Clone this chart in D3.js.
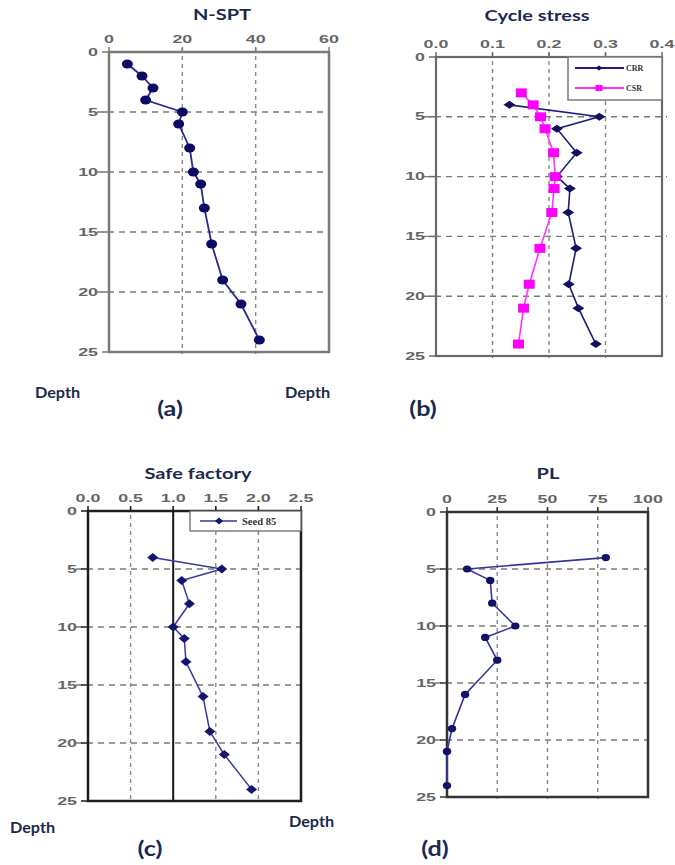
<!DOCTYPE html>
<html>
<head>
<meta charset="utf-8">
<script src="https://cdn.jsdelivr.net/npm/d3@7"></script>
<style>
  body { margin: 0; background: #fff; }
  svg { display: block; }
</style>
</head>
<body>
<svg id="chart" width="675" height="865"></svg>
<script>
// depth (m) shared ticks
const depthTicks = [0, 5, 10, 15, 20, 25];

// (a) N-SPT
const nsptDepth = [1, 2, 3, 4, 5, 6, 8, 10, 11, 13, 16, 19, 21, 24];
const nsptValue = [5, 9, 12, 10, 20, 19, 22, 23, 25, 26, 28, 31, 36, 41];
const nsptTicks = [0, 20, 40, 60];

// (b) cycle stress
const crrDepth = [4, 5, 6, 8, 10, 11, 13, 16, 19, 21, 24];
const crrValue = [0.13, 0.289, 0.214, 0.249, 0.214, 0.237, 0.234, 0.248, 0.235, 0.252, 0.283];
const csrDepth = [3, 4, 5, 6, 8, 10, 11, 13, 16, 19, 21, 24];
const csrValue = [0.151, 0.172, 0.185, 0.193, 0.208, 0.211, 0.209, 0.205, 0.184, 0.165, 0.155, 0.146];
const stressTicks = [0, 0.1, 0.2, 0.3, 0.4];

// (c) safe factor
const fsDepth = [4, 5, 6, 8, 10, 11, 13, 16, 19, 21, 24];
const fsValue = [0.76, 1.57, 1.1, 1.19, 1.0, 1.13, 1.15, 1.35, 1.43, 1.6, 1.92];
const fsTicks = [0, 0.5, 1, 1.5, 2, 2.5];

// (d) PL
const plDepth = [4, 5, 6, 8, 10, 11, 13, 16, 19, 21, 24];
const plValue = [79, 10, 21.5, 22.5, 34, 19, 25, 9, 2.5, 0, 0];
const plTicks = [0, 25, 50, 75, 100];

const svg = d3.select("#chart");
svg.append("rect").attr("width", 675).attr("height", 865).attr("fill", "#fff");

const titleColor = "#1c2a4e";

function stretchedText(g, x, y, txt, anchor) {
  // tick labels in the source are wide and flat
  g.append("text")
    .attr("transform", `translate(${x},${y}) scale(1.7,1)`)
    .attr("text-anchor", anchor)
    .attr("dominant-baseline", "central")
    .attr("font-family", "Liberation Sans, Arial, sans-serif")
    .attr("font-size", 10.5)
    .attr("font-weight", "bold")
    .attr("fill", "#666")
    .text(txt);
}

function label(g, x, y, txt, size, sx, anchor) {
  g.append("text")
    .attr("transform", `translate(${x},${y}) scale(${sx},1)`)
    .attr("text-anchor", anchor)
    .attr("font-family", "Lato, Open Sans, sans-serif")
    .attr("font-size", size)
    .attr("font-weight", "bold")
    .attr("fill", titleColor)
    .text(txt);
}

function drawPanel(p) {
  const g = svg.append("g");
  const x = d3.scaleLinear().domain(p.xDomain).range([p.x0, p.x1]);
  const y = d3.scaleLinear().domain([0, 25]).range([p.y0, p.y1]);

  // dashed grid
  g.append("g")
    .selectAll("line")
    .data(depthTicks.slice(1, -1))
    .join("line")
    .attr("x1", p.x0 - 12)
    .attr("x2", p.x1 + (p.gridOver || 0))
    .attr("y1", (d) => y(d))
    .attr("y2", (d) => y(d))
    .attr("stroke", "#7a7a7a")
    .attr("stroke-width", 1.4)
    .attr("stroke-dasharray", "6,5");

  g.append("g")
    .selectAll("line")
    .data(p.xTicks.slice(1, -1))
    .join("line")
    .attr("x1", (d) => x(d))
    .attr("x2", (d) => x(d))
    .attr("y1", p.y0 - 4)
    .attr("y2", p.y1 + 2)
    .attr("stroke", "#8a8a8a")
    .attr("stroke-width", 1.4)
    .attr("stroke-dasharray", "4,4");

  // small ticks
  g.append("g")
    .selectAll("line")
    .data(depthTicks)
    .join("line")
    .attr("x1", p.x0 - 7)
    .attr("x2", p.x0)
    .attr("y1", (d) => y(d))
    .attr("y2", (d) => y(d))
    .attr("stroke", p.frameColor)
    .attr("stroke-width", 1.5);

  g.append("g")
    .selectAll("line")
    .data(p.xTicks)
    .join("line")
    .attr("x1", (d) => x(d))
    .attr("x2", (d) => x(d))
    .attr("y1", p.y0 - 5)
    .attr("y2", p.y0)
    .attr("stroke", p.frameColor)
    .attr("stroke-width", 1.5);

  // frame
  g.append("rect")
    .attr("x", p.x0)
    .attr("y", p.y0)
    .attr("width", p.x1 - p.x0)
    .attr("height", p.y1 - p.y0)
    .attr("fill", "none")
    .attr("stroke", p.frameColor)
    .attr("stroke-width", p.frameWidth);

  if (p.refLine !== undefined) {
    g.append("line")
      .attr("x1", x(p.refLine))
      .attr("x2", x(p.refLine))
      .attr("y1", p.y0)
      .attr("y2", p.y1)
      .attr("stroke", "#1a1a1a")
      .attr("stroke-width", 2);
  }

  // tick labels
  p.xTicks.forEach((t) => stretchedText(g, x(t), p.y0 - 13, p.xFormat(t), "middle"));
  depthTicks.forEach((t) => stretchedText(g, p.x0 - 11, y(t), t, "end"));

  // title, Depth, panel letter
  label(g, p.titleX, p.titleY, p.title, 16, 1.25, "middle");
  label(g, p.depthX, p.depthY, "Depth", 15, 1.08, "start");
  label(g, p.letterX, p.letterY, p.letter, 21, 1.2, "middle");

  // series
  p.series.forEach((s) => {
    const pts = s.depth.map((d, i) => [x(s.value[i]), y(d)]);
    g.append("path")
      .attr("d", d3.line()(pts))
      .attr("fill", "none")
      .attr("stroke", s.lineColor)
      .attr("stroke-width", s.lineWidth || 1.8);
    drawMarkers(g, pts, s);
  });
  return { x, y, g };
}

function drawMarkers(g, pts, s) {
  const m = g.append("g").attr("fill", s.markColor);
  pts.forEach(([px, py]) => drawMark(m, px, py, s.marker, s.size));
}

function drawMark(m, px, py, type, sz) {
  if (type === "ellipse") {
    m.append("ellipse").attr("cx", px).attr("cy", py).attr("rx", sz[0]).attr("ry", sz[1]);
  } else if (type === "diamond") {
    m.append("path").attr(
      "d",
      `M${px - sz[0]},${py}L${px},${py - sz[1]}L${px + sz[0]},${py}L${px},${py + sz[1]}Z`
    );
  } else {
    m.append("rect")
      .attr("x", px - sz[0])
      .attr("y", py - sz[1])
      .attr("width", sz[0] * 2)
      .attr("height", sz[1] * 2);
  }
}

const fmt1 = d3.format(".1f");

drawPanel({
  x0: 109, x1: 329, y0: 52, y1: 352,
  xDomain: [0, 60], xTicks: nsptTicks, xFormat: (d) => d,
  frameColor: "#7a7a7a", frameWidth: 2.5,
  title: "N-SPT", titleX: 222, titleY: 20,
  depthX: 35, depthY: 398, letter: "(a)", letterX: 170, letterY: 416,
  series: [
    { depth: nsptDepth, value: nsptValue, lineColor: "#2a2a8a", markColor: "#0c0c66",
      marker: "ellipse", size: [5.5, 4.5] }
  ]
});

const b = drawPanel({
  x0: 436, x1: 662, y0: 57, y1: 356, gridOver: 5,
  xDomain: [0, 0.4], xTicks: stressTicks, xFormat: fmt1,
  frameColor: "#6a6a6a", frameWidth: 2.2,
  title: "Cycle stress", titleX: 537, titleY: 21,
  depthX: 285, depthY: 398, letter: "(b)", letterX: 423, letterY: 416,
  series: [
    { depth: crrDepth, value: crrValue, lineColor: "#1e1e78", markColor: "#10105e",
      marker: "diamond", size: [6, 4], lineWidth: 1.6 },
    { depth: csrDepth, value: csrValue, lineColor: "#ff33ff", markColor: "#ff00ff",
      marker: "square", size: [5.5, 4.5], lineWidth: 1.6 }
  ]
});

// legend (b)
const legB = b.g.append("g");
legB.append("rect")
  .attr("x", 568).attr("y", 57).attr("width", 94).attr("height", 43)
  .attr("fill", "#fff").attr("stroke", "#7a7a7a").attr("stroke-width", 1.5);
[
  { name: "CRR", color: "#1e1e78", mark: "#10105e", type: "diamond", size: [3.5, 2.5], ly: 68 },
  { name: "CSR", color: "#ff33ff", mark: "#ff00ff", type: "square", size: [3.5, 3], ly: 88 }
].forEach((l) => {
  legB.append("line")
    .attr("x1", 575).attr("x2", 624).attr("y1", l.ly).attr("y2", l.ly)
    .attr("stroke", l.color).attr("stroke-width", 1.8);
  drawMark(legB.append("g").attr("fill", l.mark), 599, l.ly, l.type, l.size);
  legB.append("text")
    .attr("x", 626).attr("y", l.ly + 3)
    .attr("font-family", "Liberation Serif, Times New Roman, serif")
    .attr("font-size", 8).attr("font-weight", "bold").attr("fill", "#333")
    .text(l.name);
});

const c = drawPanel({
  x0: 88, x1: 301, y0: 511, y1: 801,
  xDomain: [0, 2.5], xTicks: fsTicks, xFormat: fmt1,
  frameColor: "#1e1e1e", frameWidth: 2.5, refLine: 1,
  title: "Safe factory", titleX: 198, titleY: 479,
  depthX: 10, depthY: 833, letter: "(c)", letterX: 150, letterY: 856,
  series: [
    { depth: fsDepth, value: fsValue, lineColor: "#3a3a9c", markColor: "#14146e",
      marker: "diamond", size: [5.5, 4.5], lineWidth: 1.5 }
  ]
});

// legend (c)
const legC = c.g.append("g");
legC.append("rect")
  .attr("x", 190).attr("y", 511).attr("width", 111).attr("height", 20)
  .attr("fill", "#fff").attr("stroke", "#6a6a6a").attr("stroke-width", 1.3);
legC.append("line")
  .attr("x1", 200).attr("x2", 237).attr("y1", 521).attr("y2", 521)
  .attr("stroke", "#3a3a9c").attr("stroke-width", 1.6);
drawMark(legC.append("g").attr("fill", "#14146e"), 219, 521, "diamond", [4, 3.5]);
legC.append("text")
  .attr("x", 242).attr("y", 524.5)
  .attr("font-family", "Liberation Serif, Times New Roman, serif")
  .attr("font-size", 10.5).attr("font-weight", "bold").attr("fill", "#333")
  .text("Seed 85");

drawPanel({
  x0: 447, x1: 648, y0: 512, y1: 797,
  xDomain: [0, 100], xTicks: plTicks, xFormat: (d) => d,
  frameColor: "#333", frameWidth: 2.5,
  title: "PL", titleX: 548, titleY: 479,
  depthX: 289, depthY: 827, letter: "(d)", letterX: 435, letterY: 856,
  series: [
    { depth: plDepth, value: plValue, lineColor: "#3535a0", markColor: "#12126a",
      marker: "ellipse", size: [4.2, 3.6], lineWidth: 1.6 }
  ]
});
</script>
</body>
</html>
